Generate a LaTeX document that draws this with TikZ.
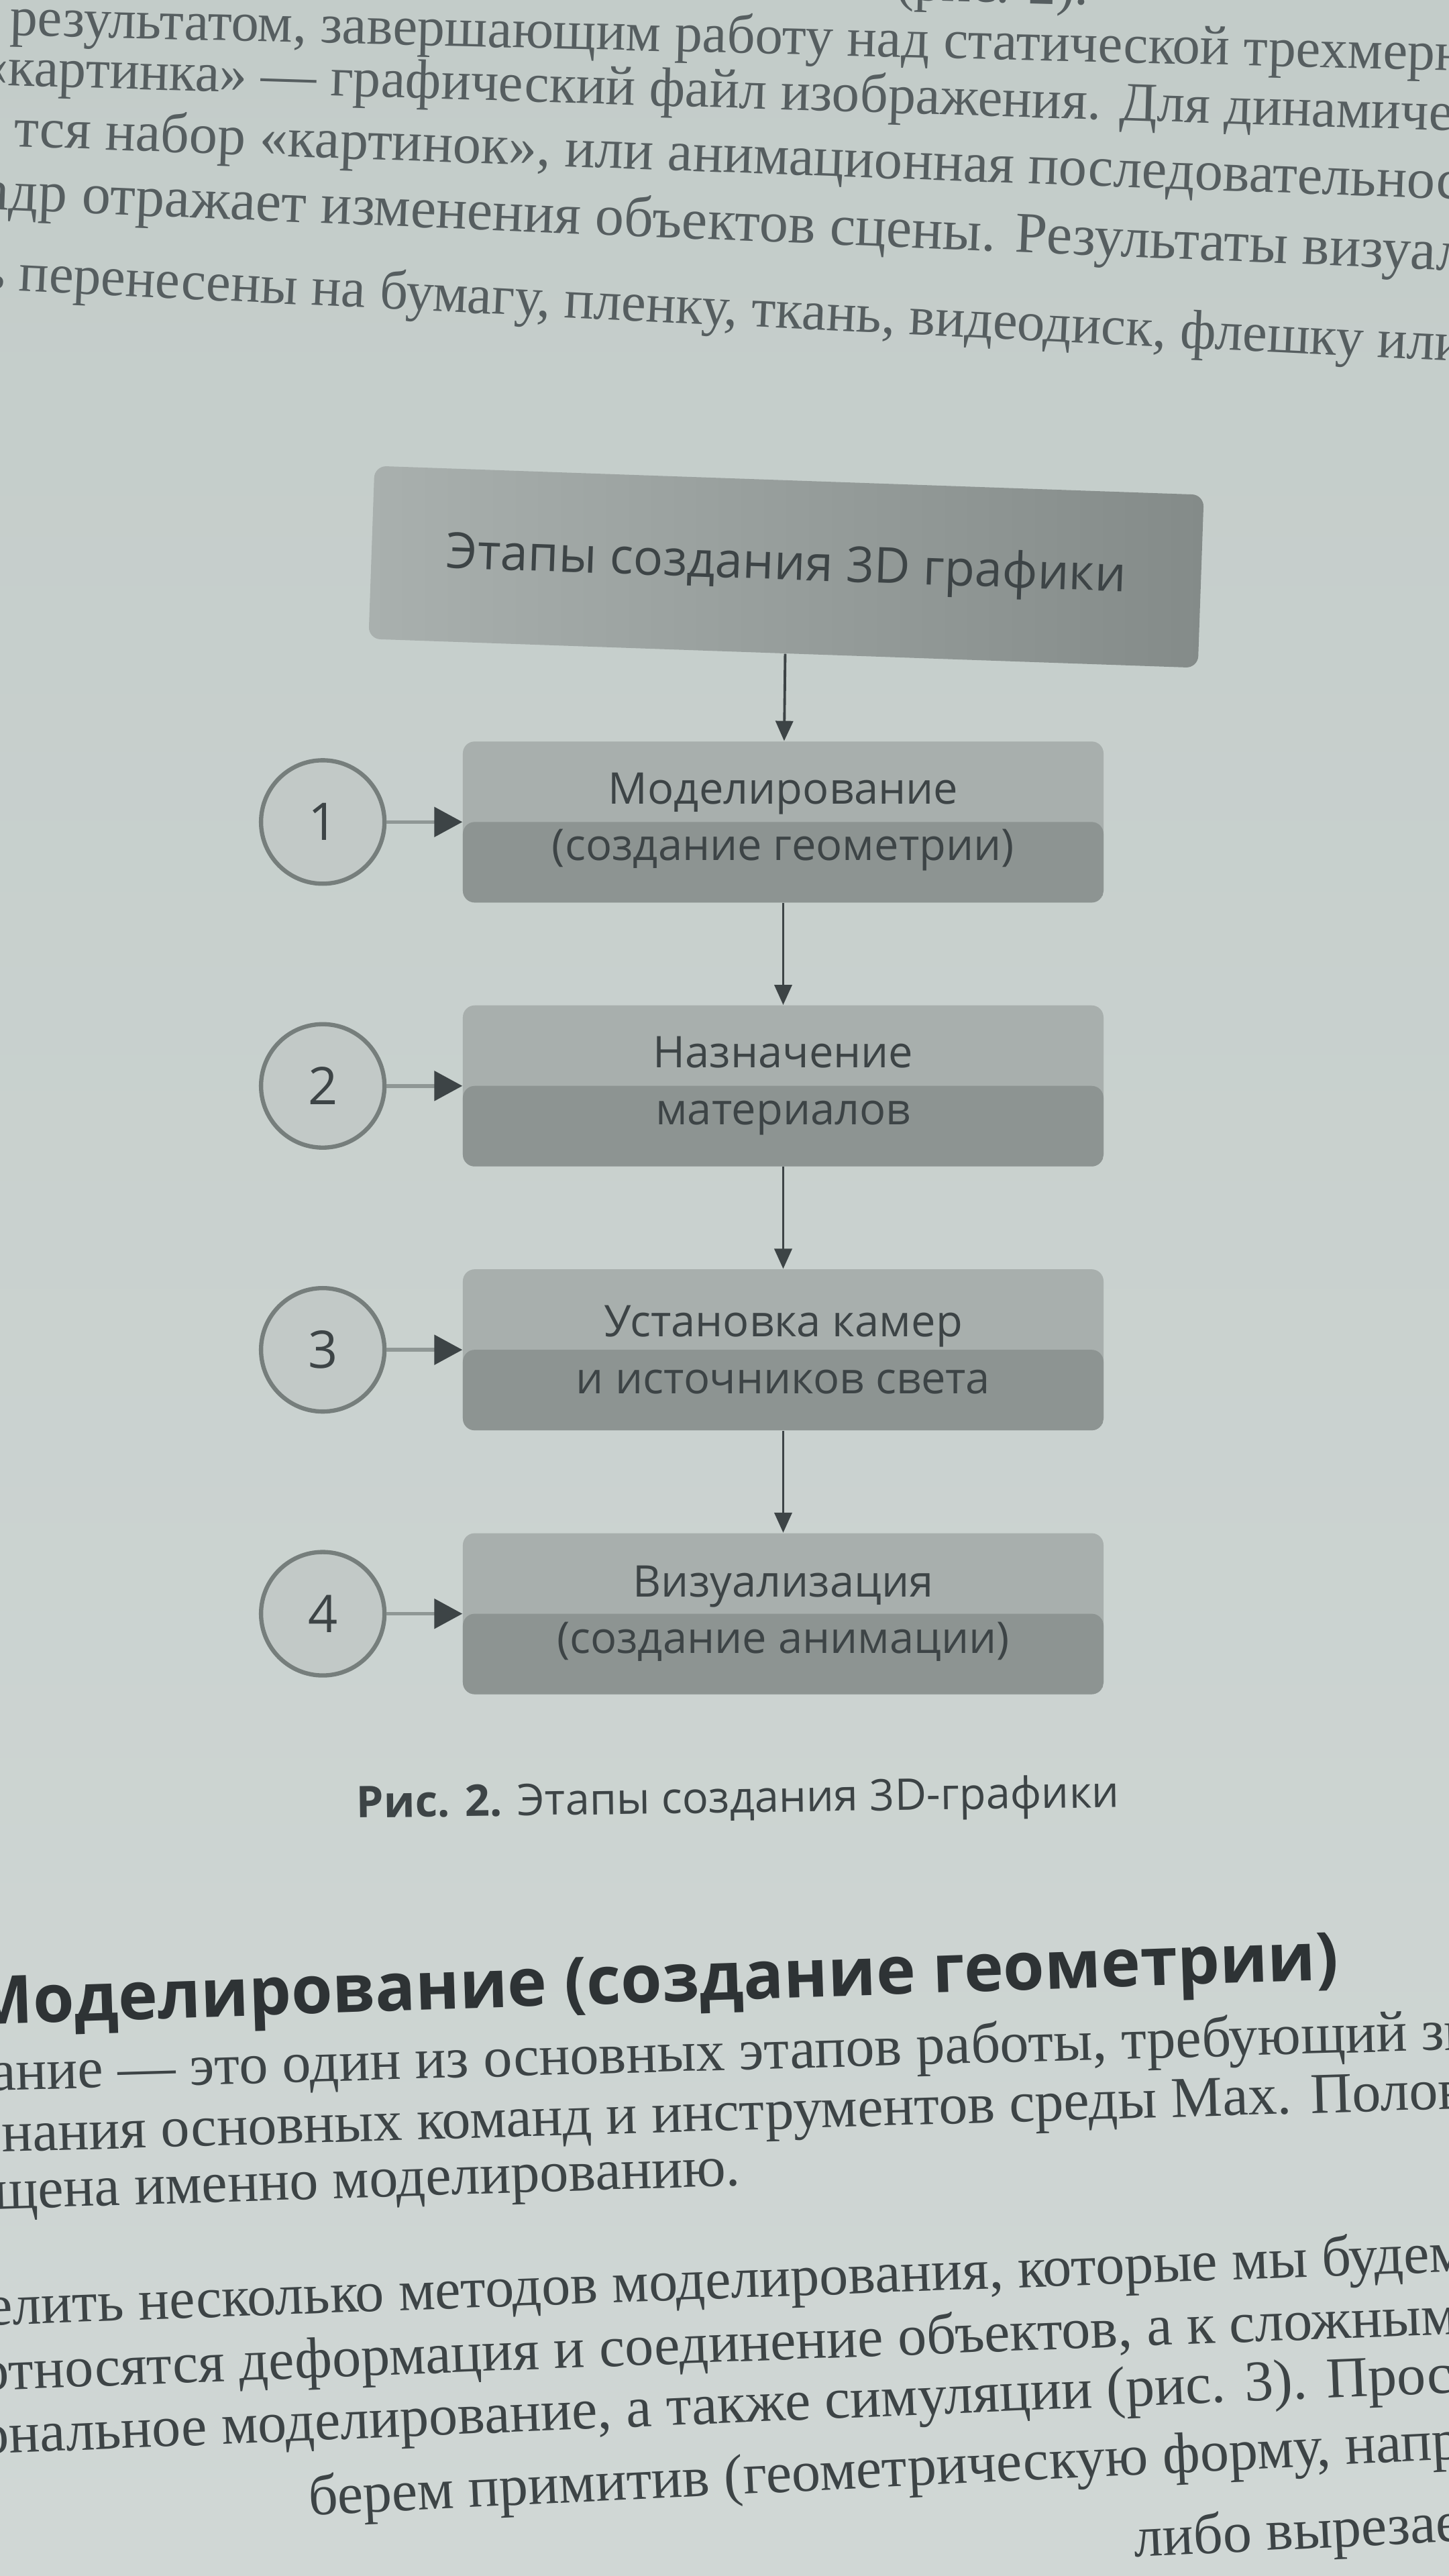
\documentclass[tikz,border=0pt]{standalone}
\usepackage{fontspec}
\setmainfont{Liberation Serif}
\setsansfont{Open Sans}
\usetikzlibrary{arrows.meta,positioning}
\definecolor{pagetop}{HTML}{C3CCC9}
\definecolor{pagebot}{HTML}{D0D7D5}
\definecolor{ink}{HTML}{3D4446}
\definecolor{faint}{HTML}{565E60}
\definecolor{boxup}{HTML}{A8AFAD}
\definecolor{boxlow}{HTML}{8D9492}
\definecolor{headl}{HTML}{A9B0AE}
\definecolor{headr}{HTML}{848B89}
\definecolor{numfill}{HTML}{C2C9C7}
\definecolor{numrim}{HTML}{767E7C}
\definecolor{wire}{HTML}{8F9795}
\begin{document}
\begin{tikzpicture}[x=1cm, y=-1cm, node distance=15.2mm and 11.3mm, stage/.style={rounded corners=5pt, minimum width=95.5mm, minimum height=24mm, align=center, inner sep=0pt, font=\sffamily\fontsize{18.5}{24}\selectfont, text=ink, fill=boxup, path picture={\fill[boxlow] (path picture bounding box.west) rectangle (path picture bounding box.south east);}}, num/.style={circle, draw=numrim, line width=1.8pt, fill=numfill, minimum size=18.4mm, inner sep=0pt, font=\sffamily\fontsize{22}{24}\selectfont, text=ink}, arr/.style={draw=ink, line width=1.1pt, -{Triangle[length=3mm,width=2.6mm]}}, numarr/.style={draw=wire, line width=1.6pt, -{Triangle[length=4.2mm,width=4.4mm,color=ink]}}, toptext/.style={anchor=west, inner sep=0pt, font=\fontsize{23.5}{26}\selectfont, text=faint}, lowtext/.style={anchor=west, inner sep=0pt, font=\fontsize{24.5}{28}\selectfont, text=ink}]
\useasboundingbox (0,0) rectangle (21.6,38.4);
\clip (0,0) rectangle (21.6,38.4);
\fill[top color=pagetop, bottom color=pagebot] (0,0) rectangle (21.6,38.4);
\node[toptext, rotate=-1.5] (ref) at (13.35,-0.2) {(рис. 2).};
\node[toptext, rotate=-1.4] (l1) at (0.14,0.32) {результатом, завершающим работу над статической трехмерной сценой};
\node[toptext, rotate=-1.8] (l2) at (-0.3,1.05) {«картинка» — графический файл изображения. Для динамической};
\node[toptext, rotate=-2.1, font=\fontsize{24}{26}\selectfont] (l3) at (0.21,1.97) {тся набор «картинок», или анимационная последовательность};
\node[toptext, rotate=-2.4, font=\fontsize{24.5}{26}\selectfont] (l4) at (-0.25,2.9) {адр отражает изменения объектов сцены. Результаты визуализации};
\node[toptext, rotate=-2.8] (l5) at (-0.3,4.1) {ь перенесены на бумагу, пленку, ткань, видеодиск, флешку или};
\node[rounded corners=5pt, minimum width=123.7mm, minimum height=25.8mm, rotate=-2, left color=headl, right color=headr, font=\sffamily\fontsize{21}{24}\selectfont, text=ink] (title) at (11.72,8.45) {Этапы создания 3D графики};
\node[stage, below=13mm of title] (m1) {Моделирование\\(создание геометрии)};
\node[stage, below=of m1] (m2) {Назначение\\материалов};
\node[stage, below=of m2] (m3) {Установка камер\\и источников света};
\node[stage, below=of m3] (m4) {Визуализация\\(создание анимации)};
\node[num, left=of m1] (n1) {1};
\node[num, left=of m2] (n2) {2};
\node[num, left=of m3] (n3) {3};
\node[num, left=of m4] (n4) {4};
\draw[arr] (title) -- (m1); \draw[arr] (m1) -- (m2); \draw[arr] (m2) -- (m3); \draw[arr] (m3) -- (m4);
\draw[numarr] (n1) -- (m1); \draw[numarr] (n2) -- (m2); \draw[numarr] (n3) -- (m3); \draw[numarr] (n4) -- (m4);
\node[rotate=0.8, font=\sffamily\fontsize{18.5}{22}\selectfont, text=ink] (cap) at (11.0,26.85) {\textbf{Рис. 2.} Этапы создания 3D-графики};
\node[anchor=west, inner sep=0pt, rotate=1.9, font=\sffamily\bfseries\fontsize{28.3}{32}\selectfont, text=ink!75!black] (head) at (-0.45,29.95) {Моделирование (создание геометрии)};
\node[lowtext, rotate=1.6] (b1) at (-0.15,30.95) {ание — это один из основных этапов работы, требующий знания};
\node[lowtext, rotate=1.7] (b2) at (-0.32,31.9) {знания основных команд и инструментов среды Max. Половина};
\node[lowtext, rotate=1.8] (b3) at (-0.1,32.82) {щена именно моделированию.};
\node[lowtext, rotate=2.1] (b4) at (-0.2,34.45) {елить несколько методов моделирования, которые мы будем};
\node[lowtext, rotate=2.2] (b5) at (-0.3,35.42) {относятся деформация и соединение объектов, а к сложным};
\node[lowtext, rotate=2.4] (b6) at (-0.3,36.38) {ональное моделирование, а также симуляции (рис. 3). Простое};
\node[lowtext, rotate=2.8] (b7) at (4.6,37.28) {берем примитив (геометрическую форму, например};
\node[lowtext, rotate=2.8] (b8) at (16.9,37.9) {либо вырезаем в с};
\end{tikzpicture}
\end{document}
